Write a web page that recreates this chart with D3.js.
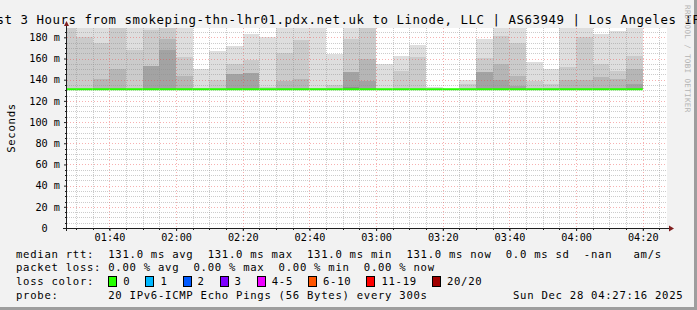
<!DOCTYPE html>
<html>
<head>
<meta charset="utf-8">
<script src="https://cdn.jsdelivr.net/npm/d3@7/dist/d3.min.js"></script>
<style>
  html, body { margin: 0; padding: 0; background: #f2f2f2; }
  svg { display: block; }
  text { font-family: "DejaVu Sans Mono", monospace; fill: #000; }
</style>
</head>
<body>
<svg id="chart" width="697" height="310"></svg>
<script>
// ---- data ----
const titleText = "Last 3 Hours from smokeping-thn-lhr01.pdx.net.uk to Linode, LLC | AS63949 | Los Angeles IPv6"
const dayStr = "2025-12-28"
const windowStart = "01:27:16"
const windowEnd = "04:27:16"

// 5 minute slots (start time of each step)
const slotTimes = ["01:25","01:30","01:35","01:40","01:45","01:50","01:55",
  "02:00","02:05","02:10","02:15","02:20","02:25","02:30","02:35","02:40",
  "02:45","02:50","02:55","03:00","03:05","03:10","03:15","03:20","03:25",
  "03:30","03:35","03:40","03:45","03:50","03:55","04:00","04:05","04:10","04:15"]

// median rtt per slot (ms)
const medianRtt = [131,131,131,131,131,131,131,131,131,131,131,131,131,131,131,131,131,131,
  131,131,131,131,131,131,131,131,131,131,131,131,131,131,131,131,131]

// lost pings per slot
const lossCount = [0,0,0,0,0,0,0,0,0,0,0,0,0,0,0,0,0,0,0,0,0,0,0,0,0,0,0,0,0,0,0,0,0,0,0]

// highest pings of each slot, sorted high to low (the rest sit at the median)
const smokeTops = [
  [198, 192], [194, 180], [195, 175, 141], [196, 192, 150], [194, 168],
  [195, 187, 153, 153], [198, 192, 178, 168], [195, 161, 143.5], [150, 132], [167, 140],
  [172, 155, 145, 145], [183, 159, 146, 146], [180, 133.5], [196, 165, 138.5], [196, 177.5, 140.5],
  [196, 132], [164, 135], [196, 178.5, 147, 147, 133], [198, 192, 160, 139], [155, 131.5],
  [162, 148.3], [172.6, 161], [133.5], [131.3], [139.5, 135.5],
  [178.5, 160.5, 147, 147], [196, 181, 155, 140], [196, 175, 143.5, 134], [156.3, 138.3], [149.8, 135.7],
  [196, 152, 140], [196, 180.7, 140], [183, 154.5, 143], [185.7, 148.2, 140.8], [196, 162, 149.8, 135.7]
]

const yMax = 188.8
const yMajor = [0, 20, 40, 60, 80, 100, 120, 140, 160, 180]

const lossLabels = ["0", "1", "2", "3", "4-5", "6-10", "11-19", "20/20"]
const lossColors = ["#26ff00", "#00b8ff", "#0059ff", "#7e00ff", "#ee00ff", "#ff5500", "#ff0000", "#a00000"]

const rttStats = { avg: 131.0, max: 131.0, min: 131.0, now: 131.0, sd: 0.0 }
const lossStats = { avg: 0.00, max: 0.00, min: 0.00, now: 0.00 }
const probeText = "20 IPv6-ICMP Echo Pings (56 Bytes) every 300s"
const stampText = "Sun Dec 28 04:27:16 2025"

const smokeShades = ["#dedede", "#cbcbcb", "#b6b6b6", "#a3a3a3", "#909090"]

// ---- layout ----
const W = 697, H = 310
const plot = { left: 67, right: 667, top: 28, bottom: 228 }
const legendPitch = 7.1

const parseFull = d3.timeParse("%Y-%m-%d %H:%M:%S")
const parseSlot = d3.timeParse("%Y-%m-%d %H:%M")
const t0 = parseFull(dayStr + " " + windowStart)
const t1 = parseFull(dayStr + " " + windowEnd)
const slots = slotTimes.map(s => parseSlot(dayStr + " " + s))

const x = d3.scaleTime().domain([t0, t1]).range([plot.left, plot.right])
const y = d3.scaleLinear().domain([0, yMax]).range([plot.bottom, plot.top])

const svg = d3.select("#chart")

// background + frame
svg.append("rect").attr("width", W).attr("height", H).attr("fill", "#f2f2f2")
svg.append("rect").attr("x", W - 3).attr("y", 0).attr("width", 3).attr("height", H).attr("fill", "#9e9e9e")
svg.append("rect").attr("x", 0).attr("y", H - 3).attr("width", W).attr("height", 3).attr("fill", "#9e9e9e")

// canvas
svg.append("rect")
  .attr("x", plot.left).attr("y", plot.top)
  .attr("width", plot.right - plot.left).attr("height", plot.bottom - plot.top)
  .attr("fill", "#fff")

svg.append("clipPath").attr("id", "plotclip")
  .append("rect")
  .attr("x", plot.left).attr("y", plot.top)
  .attr("width", plot.right - plot.left).attr("height", plot.bottom - plot.top)

// smoke
const smoke = svg.append("g").attr("clip-path", "url(#plotclip)").attr("shape-rendering", "crispEdges")
slots.forEach((s, i) => {
  const x0 = x(s), x1 = x(d3.timeMinute.offset(s, 5))
  const tops = smokeTops[i]
  tops.forEach((v, j) => {
    const lo = j + 1 < tops.length ? tops[j + 1] : medianRtt[i]
    if (v <= lo) return
    smoke.append("rect")
      .attr("x", x0).attr("width", x1 - x0)
      .attr("y", y(v)).attr("height", y(lo) - y(v))
      .attr("fill", smokeShades[j])
  })
})

// grid
const grid = svg.append("g").attr("shape-rendering", "crispEdges")
const minorTimes = d3.timeMinute.every(5).range(t0, t1)
const majorTimes = d3.timeMinute.every(20).range(t0, t1)
const minorVals = d3.range(5, yMax, 5).filter(v => v % 20 !== 0)
const minorCol = "rgba(143,143,143,0.45)", majorCol = "rgba(235,70,70,0.42)"

grid.selectAll(".vminor").data(minorTimes.filter(t => t.getMinutes() % 20 !== 0)).enter()
  .append("line")
  .attr("x1", d => Math.round(x(d)) + 0.5).attr("x2", d => Math.round(x(d)) + 0.5)
  .attr("y1", plot.top).attr("y2", plot.bottom)
  .attr("stroke", minorCol).attr("stroke-dasharray", "1,1")
grid.selectAll(".hminor").data(minorVals).enter()
  .append("line")
  .attr("x1", plot.left).attr("x2", plot.right)
  .attr("y1", d => Math.round(y(d)) + 0.5).attr("y2", d => Math.round(y(d)) + 0.5)
  .attr("stroke", minorCol).attr("stroke-dasharray", "1,1")
grid.selectAll(".vmajor").data(majorTimes).enter()
  .append("line")
  .attr("x1", d => Math.round(x(d)) + 0.5).attr("x2", d => Math.round(x(d)) + 0.5)
  .attr("y1", plot.top).attr("y2", plot.bottom)
  .attr("stroke", majorCol).attr("stroke-dasharray", "1,2")
grid.selectAll(".hmajor").data(yMajor.filter(v => v > 0)).enter()
  .append("line")
  .attr("x1", plot.left).attr("x2", plot.right)
  .attr("y1", d => Math.round(y(d)) + 0.5).attr("y2", d => Math.round(y(d)) + 0.5)
  .attr("stroke", majorCol).attr("stroke-dasharray", "1,2")

// median line, coloured by loss
const medG = svg.append("g").attr("clip-path", "url(#plotclip)")
slots.forEach((s, i) => {
  const lossIdx = lossCount[i] === 0 ? 0 : lossCount[i] <= 3 ? lossCount[i] : lossCount[i] <= 5 ? 4 :
    lossCount[i] <= 10 ? 5 : lossCount[i] < 20 ? 6 : 7
  medG.append("line")
    .attr("x1", x(s)).attr("x2", x(d3.timeMinute.offset(s, 5)))
    .attr("y1", y(medianRtt[i])).attr("y2", y(medianRtt[i]))
    .attr("stroke", lossColors[lossIdx]).attr("stroke-width", 2)
})

// axes
const xAxis = d3.axisBottom(x).tickValues(majorTimes)
  .tickFormat(d3.timeFormat("%H:%M")).tickSize(3).tickPadding(3).tickSizeOuter(0)
const gx = svg.append("g").attr("transform", `translate(0,${plot.bottom})`).call(xAxis)
gx.select(".domain").remove()
gx.selectAll("text").style("font-size", "10.2px").attr("fill", "#000")
gx.selectAll("line").attr("stroke", "#1f1f1f")

const yAxis = d3.axisLeft(y).tickValues(yMajor)
  .tickFormat(d => d === 0 ? "0\u00a0\u00a0" : d + " m").tickSize(3).tickPadding(4).tickSizeOuter(0)
const gy = svg.append("g").attr("transform", `translate(${plot.left},0)`).call(yAxis)
gy.select(".domain").remove()
gy.selectAll("text").style("font-size", "10.2px").style("white-space", "pre").attr("fill", "#000")
gy.selectAll("line").attr("stroke", "#1f1f1f")

// minor ticks
svg.append("g").selectAll("line").data(minorTimes).enter().append("line")
  .attr("x1", d => Math.round(x(d)) + 0.5).attr("x2", d => Math.round(x(d)) + 0.5)
  .attr("y1", plot.bottom).attr("y2", plot.bottom + 2).attr("stroke", "#1f1f1f")
svg.append("g").selectAll("line").data(minorVals).enter().append("line")
  .attr("y1", d => Math.round(y(d)) + 0.5).attr("y2", d => Math.round(y(d)) + 0.5)
  .attr("x1", plot.left - 2).attr("x2", plot.left).attr("stroke", "#1f1f1f")

// axis lines + arrows
svg.append("line").attr("x1", plot.left - 4).attr("x2", plot.right + 2)
  .attr("y1", plot.bottom + 0.5).attr("y2", plot.bottom + 0.5).attr("stroke", "#1f1f1f")
svg.append("line").attr("x1", plot.left - 0.5).attr("x2", plot.left - 0.5)
  .attr("y1", plot.top - 2).attr("y2", plot.bottom + 3).attr("stroke", "#1f1f1f")
svg.append("path")
  .attr("d", `M${plot.right + 2},${plot.bottom - 2.5} L${plot.right + 7},${plot.bottom + 0.5} L${plot.right + 2},${plot.bottom + 3.5} Z`)
  .attr("fill", "#801f1f")
svg.append("path")
  .attr("d", `M${plot.left - 3},${plot.top - 2} L${plot.left - 0.5},${plot.top - 7} L${plot.left + 2},${plot.top - 2} Z`)
  .attr("fill", "#801f1f")

// title (wider than the image, centred and cut at both edges like the original)
svg.append("text").attr("x", W / 2).attr("y", 24).attr("text-anchor", "middle")
  .style("font-size", "12.4px").style("letter-spacing", "0.54px").text(titleText)

// y label
svg.append("text").attr("transform", `translate(15,${(plot.top + plot.bottom) / 2}) rotate(-90)`)
  .attr("text-anchor", "middle").style("font-size", "10.6px").style("letter-spacing", "0.72px")
  .text("Seconds")

// watermark
svg.append("text").attr("transform", "translate(684.5,5) rotate(90)")
  .style("font-size", "7.6px").style("letter-spacing", "0.32px")
  .style("fill", "#b4b4b4").text("RRDTOOL / TOBI OETIKER")

// legend
const legendRows = [257.5, 271.3, 285.1, 298.9]
const legendX = 16
const leg = (row, str, xx = legendX) => svg.append("text").attr("x", xx).attr("y", legendRows[row])
  .style("font-size", "10.6px").style("letter-spacing", "0.72px").style("white-space", "pre").text(str)

const f1 = v => v.toFixed(1), f2 = v => v.toFixed(2)
leg(0, `median rtt:  ${f1(rttStats.avg)} ms avg  ${f1(rttStats.max)} ms max  ${f1(rttStats.min)} ms min  ${f1(rttStats.now)} ms now  ${f1(rttStats.sd)} ms sd  -nan   am/s`)
leg(1, `packet loss: ${f2(lossStats.avg)} % avg  ${f2(lossStats.max)} % max  ${f2(lossStats.min)} % min  ${f2(lossStats.now)} % now`)
leg(2, "loss color:")
leg(3, "probe:       " + probeText)
leg(3, stampText, 513)

let bx = legendX + 13 * legendPitch
lossLabels.forEach((lab, i) => {
  svg.append("rect").attr("x", Math.round(bx) + 0.5).attr("y", 276.5).attr("width", 8).attr("height", 10)
    .attr("fill", lossColors[i]).attr("stroke", "#000")
  leg(2, lab, bx + 15)
  bx = bx + 15 + lab.length * legendPitch + 15
})
</script>
</body>
</html>
